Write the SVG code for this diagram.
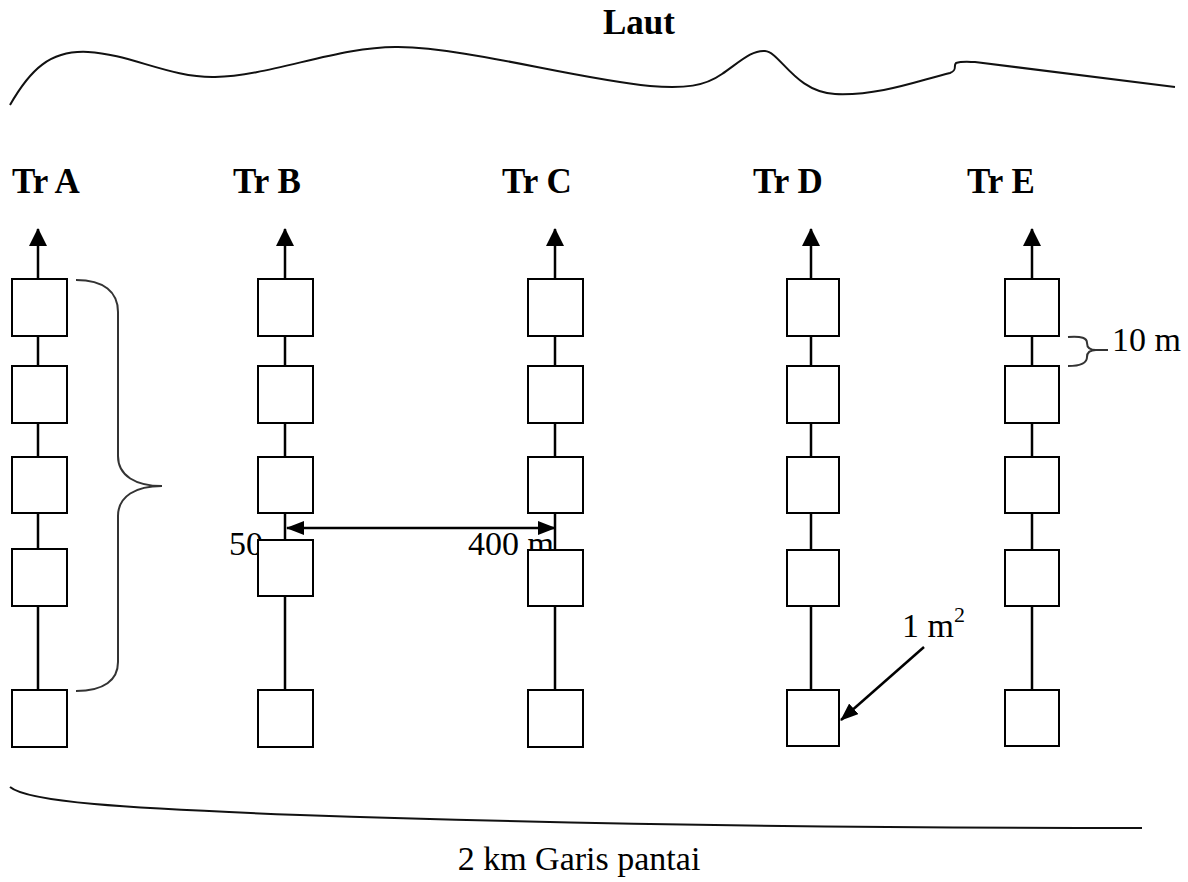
<svg xmlns="http://www.w3.org/2000/svg" width="1188" height="882" viewBox="0 0 1188 882">
  <defs>
    <marker id="head" viewBox="0 0 18 18" refX="17" refY="9" markerWidth="18" markerHeight="18" markerUnits="userSpaceOnUse" orient="auto-start-reverse">
      <path d="M0,0 L18,9 L0,18 Z" fill="#000"/>
    </marker>
    <marker id="headSmall" viewBox="0 0 18 14" refX="17" refY="7" markerWidth="18" markerHeight="14" markerUnits="userSpaceOnUse" orient="auto-start-reverse">
      <path d="M0,0 L18,7 L0,14 Z" fill="#000"/>
    </marker>
  </defs>
  <style>
    .plot { fill: #fff; stroke: #000; stroke-width: 2; }
    .line { stroke: #000; stroke-width: 2.5; fill: none; }
    .curve { stroke: #111; stroke-width: 2; fill: none; }
    .brace { stroke: #333; stroke-width: 2; fill: none; }
    .title { font-family: "Liberation Serif", "Times New Roman", serif; font-weight: bold; font-size: 35px; fill: #000; }
    .label { font-family: "Liberation Serif", "Times New Roman", serif; font-size: 34px; fill: #000; }
  </style>
  <rect width="1188" height="882" fill="#fff"/>

  <!-- sea side -->
  <text class="title" x="603" y="34">Laut</text>
  <path class="curve" d="M10,105 C30,70 50,50 88,52 C130,54 170,78 215,77 C270,76 340,46 398,47 C470,48 570,78 650,86 C685,89 705,86 722,74 C742,60 752,50 765,51 C780,52 795,92 835,94 C880,96 920,80 950,73 C958,70 953,66 956,63 C962,61 970,62 975,62 L1175,87"/>

  <!-- shoreline -->
  <path class="curve" d="M10,787 C28,802 120,808 300,815 C500,822 800,828 1142,828"/>
  <text class="label" x="579" y="870" text-anchor="middle" font-size="37">2 km Garis pantai</text>

  <!-- transect labels -->
  <text class="title" x="12" y="193">Tr A</text>
  <text class="title" x="233" y="193">Tr B</text>
  <text class="title" x="502" y="193">Tr C</text>
  <text class="title" x="753" y="193">Tr D</text>
  <text class="title" x="967" y="193">Tr E</text>

  <!-- connectors -->
  <g id="connectors">
    <line class="line" x1="38" y1="690" x2="38" y2="229" marker-end="url(#head)"/>
    <line class="line" x1="285" y1="690" x2="285" y2="229" marker-end="url(#head)"/>
    <line class="line" x1="555" y1="690" x2="555" y2="229" marker-end="url(#head)"/>
    <line class="line" x1="811" y1="690" x2="811" y2="229" marker-end="url(#head)"/>
    <line class="line" x1="1032" y1="690" x2="1032" y2="229" marker-end="url(#head)"/>
    <!-- spacing between transects -->
    <line class="line" x1="287" y1="528" x2="555" y2="528" marker-start="url(#headSmall)" marker-end="url(#headSmall)"/>
    <!-- plot size pointer -->
    <line class="line" x1="924" y1="647" x2="841" y2="720" marker-end="url(#headSmall)"/>
  </g>

  <text class="label" x="229" y="555">50</text>
  <text class="label" x="468" y="555">400 m</text>

  <!-- transect A -->
  <g id="tr-a">
    <rect class="plot" x="12" y="279" width="55" height="57"/>
    <rect class="plot" x="12" y="366" width="55" height="57"/>
    <rect class="plot" x="12" y="457" width="55" height="56"/>
    <rect class="plot" x="12" y="549" width="55" height="57"/>
    <rect class="plot" x="12" y="690" width="55" height="57"/>
  </g>
  <!-- transect B -->
  <g id="tr-b">
    <rect class="plot" x="258" y="279" width="55" height="57"/>
    <rect class="plot" x="258" y="366" width="55" height="57"/>
    <rect class="plot" x="258" y="457" width="55" height="56"/>
    <rect class="plot" x="258" y="540" width="55" height="56"/>
    <rect class="plot" x="258" y="690" width="55" height="57"/>
  </g>
  <!-- transect C -->
  <g id="tr-c">
    <rect class="plot" x="528" y="279" width="55" height="57"/>
    <rect class="plot" x="528" y="366" width="55" height="57"/>
    <rect class="plot" x="528" y="457" width="55" height="56"/>
    <rect class="plot" x="528" y="550" width="55" height="56"/>
    <rect class="plot" x="528" y="690" width="55" height="57"/>
  </g>
  <!-- transect D -->
  <g id="tr-d">
    <rect class="plot" x="787" y="279" width="52" height="57"/>
    <rect class="plot" x="787" y="366" width="52" height="57"/>
    <rect class="plot" x="787" y="457" width="52" height="56"/>
    <rect class="plot" x="787" y="550" width="52" height="56"/>
    <rect class="plot" x="787" y="690" width="52" height="56"/>
  </g>
  <!-- transect E -->
  <g id="tr-e">
    <rect class="plot" x="1005" y="279" width="54" height="57"/>
    <rect class="plot" x="1005" y="366" width="54" height="57"/>
    <rect class="plot" x="1005" y="457" width="54" height="56"/>
    <rect class="plot" x="1005" y="550" width="54" height="56"/>
    <rect class="plot" x="1005" y="690" width="54" height="56"/>
  </g>

  <!-- braces -->
  <g id="brace-a">
    <path class="brace" d="M76,280 C104,280 118,292 118,312 L118,456 C118,476 136,486 162,486 C136,486 118,496 118,516 L118,662 C118,680 104,691 76,691"/>
  </g>
  <g id="brace-10m">
    <path class="brace" d="M1068,337 C1082,336 1087,338 1087,343 C1087,348 1090,350 1096,350 L1108,350 M1096,350 C1090,350 1087,352 1087,357 C1087,363 1082,366 1068,366"/>
    <text class="label" x="1112" y="351">10 m</text>
  </g>

  <text class="label" x="902" y="637">1 m<tspan font-size="22" dy="-15">2</tspan></text>
</svg>
